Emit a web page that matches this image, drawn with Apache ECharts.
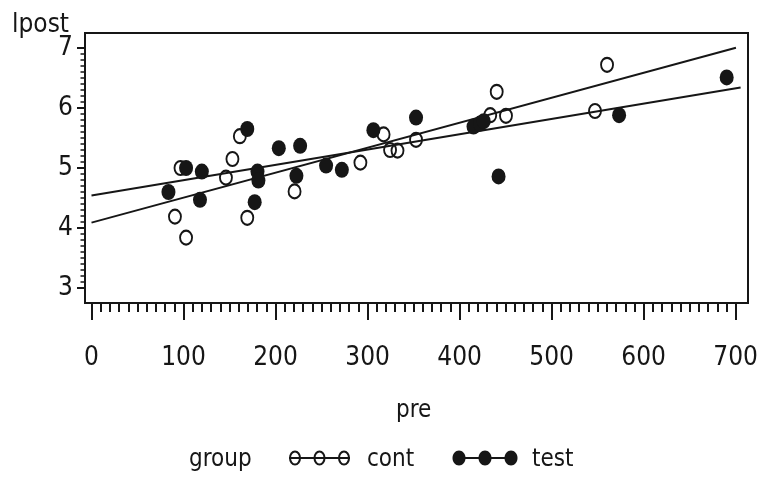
<!DOCTYPE html>
<html>
<head>
<meta charset="utf-8">
<script src="https://cdn.jsdelivr.net/npm/echarts@6/dist/echarts.min.js"></script>
<style>html,body{margin:0;padding:0;background:#fff}#c{width:761px;height:480px}</style>
</head>
<body>
<div id="c"></div>
<script>
// ---- data ----
const contPre   = [96, 90, 102, 152, 145, 160, 168, 219, 315, 290, 322, 330, 350, 437, 430, 447, 543, 556];
const contLpost = [5.00, 4.19, 3.84, 5.15, 4.84, 5.53, 4.17, 4.61, 5.56, 5.09, 5.30, 5.29, 5.47, 6.27, 5.88, 5.87, 5.95, 6.72];
const testPre   = [83, 102, 119, 117, 168, 179, 180, 176, 202, 225, 221, 253, 270, 304, 350, 412, 419, 423, 439, 569, 685];
const testLpost = [4.60, 5.00, 4.94, 4.47, 5.65, 4.94, 4.79, 4.43, 5.33, 5.37, 4.87, 5.04, 4.97, 5.63, 5.84, 5.69, 5.74, 5.78, 4.86, 5.88, 6.51];
const contFitPre   = [0, 695];
const contFitLpost = [4.09, 7.005];
const testFitPre   = [0, 700];
const testFitLpost = [4.54, 6.34];
const xTickMin = 0, xTickMax = 700, xTickStep = 100;
const yTickMin = 3, yTickMax = 7, yTickStep = 1;
const groupLabel = 'group', contLabel = 'cont', testLabel = 'test';
const xName = 'pre', yName = 'lpost';

const zip = (a, b) => a.map((v, i) => [v, b[i]]);
const FONT = "'Liberation Sans Narrow', 'DejaVu Sans Condensed', 'Roboto', sans-serif";
const INK = '#161616';

const chart = echarts.init(document.getElementById('c'), null, {renderer: 'canvas'});
const option = {
  animation: false,
  backgroundColor: '#fff',
  grid: [
    {left: 85, top: 33, width: 663, height: 270, show: true, borderColor: INK, borderWidth: 2, backgroundColor: 'transparent', containLabel: false},
    {left: 91.5, top: 33, width: 649.1, height: 270, containLabel: false},
    {left: 85, top: 48, width: 663, height: 240, containLabel: false}
  ],
  xAxis: [
    {gridIndex: 0, type: 'value', min: -7, max: 708, show: false},
    {gridIndex: 1, type: 'value', min: xTickMin, max: xTickMax, interval: xTickStep, position: 'bottom',
     axisLine: {show: false}, splitLine: {show: false},
     axisTick: {show: true, length: 17, lineStyle: {color: INK, width: 2}},
     minorTick: {show: true, splitNumber: 10, length: 9, lineStyle: {color: INK, width: 2}},
     axisLabel: {margin: 42, fontFamily: FONT, fontSize: 26, color: INK},
     name: xName, nameLocation: 'middle', nameGap: 96,
     nameTextStyle: {fontFamily: FONT, fontSize: 24, color: INK}},
    {gridIndex: 2, type: 'value', min: 0, max: 1, show: false}
  ],
  yAxis: [
    {gridIndex: 0, type: 'value', min: 2.75, max: 7.25, show: false},
    {gridIndex: 1, type: 'value', min: 0, max: 1, show: false},
    {gridIndex: 2, type: 'value', min: yTickMin, max: yTickMax, interval: yTickStep, position: 'left',
     axisLine: {show: false}, splitLine: {show: false},
     axisTick: {show: true, length: 8, lineStyle: {color: INK, width: 2}},
     minorTick: {show: true, splitNumber: 10, length: 4.5, lineStyle: {color: INK, width: 1.5}},
     axisLabel: {margin: 12, fontFamily: FONT, fontSize: 26, color: INK}}
  ],
  series: [
    {type: 'line', xAxisIndex: 0, yAxisIndex: 0, data: zip(contFitPre, contFitLpost), showSymbol: false, silent: true,
     lineStyle: {color: INK, width: 2}, z: 2},
    {type: 'line', xAxisIndex: 0, yAxisIndex: 0, data: zip(testFitPre, testFitLpost), showSymbol: false, silent: true,
     lineStyle: {color: INK, width: 2}, z: 2},
    {name: contLabel, type: 'scatter', xAxisIndex: 0, yAxisIndex: 0, data: zip(contPre, contLpost),
     symbol: 'circle', symbolSize: [12, 14],
     itemStyle: {color: 'rgba(0,0,0,0)', borderColor: INK, borderWidth: 2, opacity: 1}, z: 3},
    {name: testLabel, type: 'scatter', xAxisIndex: 0, yAxisIndex: 0, data: zip(testPre, testLpost),
     symbol: 'circle', symbolSize: [14, 16],
     itemStyle: {color: INK, opacity: 1}, z: 4}
  ],
  graphic: [
    {type: 'text', left: 12, top: 12, style: {text: yName, font: "26px " + FONT, fill: INK}},
    {type: 'text', x: 189, y: 460, style: {text: groupLabel, font: "24px " + FONT, fill: INK, verticalAlign: 'middle'}},
    {type: 'line', shape: {x1: 289, y1: 458, x2: 350, y2: 458}, style: {stroke: INK, lineWidth: 2}},
    {type: 'ellipse', shape: {cx: 295, cy: 458, rx: 5, ry: 6.5}, style: {stroke: INK, lineWidth: 2, fill: null}},
    {type: 'ellipse', shape: {cx: 319.5, cy: 458, rx: 5, ry: 6.5}, style: {stroke: INK, lineWidth: 2, fill: null}},
    {type: 'ellipse', shape: {cx: 344, cy: 458, rx: 5, ry: 6.5}, style: {stroke: INK, lineWidth: 2, fill: null}},
    {type: 'text', x: 367, y: 460, style: {text: contLabel, font: "24px " + FONT, fill: INK, verticalAlign: 'middle'}},
    {type: 'line', shape: {x1: 453, y1: 458, x2: 517, y2: 458}, style: {stroke: INK, lineWidth: 2}},
    {type: 'ellipse', shape: {cx: 459, cy: 458, rx: 6.5, ry: 7.5}, style: {fill: INK}},
    {type: 'ellipse', shape: {cx: 485, cy: 458, rx: 6.5, ry: 7.5}, style: {fill: INK}},
    {type: 'ellipse', shape: {cx: 511, cy: 458, rx: 6.5, ry: 7.5}, style: {fill: INK}},
    {type: 'text', x: 532, y: 460, style: {text: testLabel, font: "24px " + FONT, fill: INK, verticalAlign: 'middle'}}
  ]
};
chart.setOption(option);
</script>
</body>
</html>
